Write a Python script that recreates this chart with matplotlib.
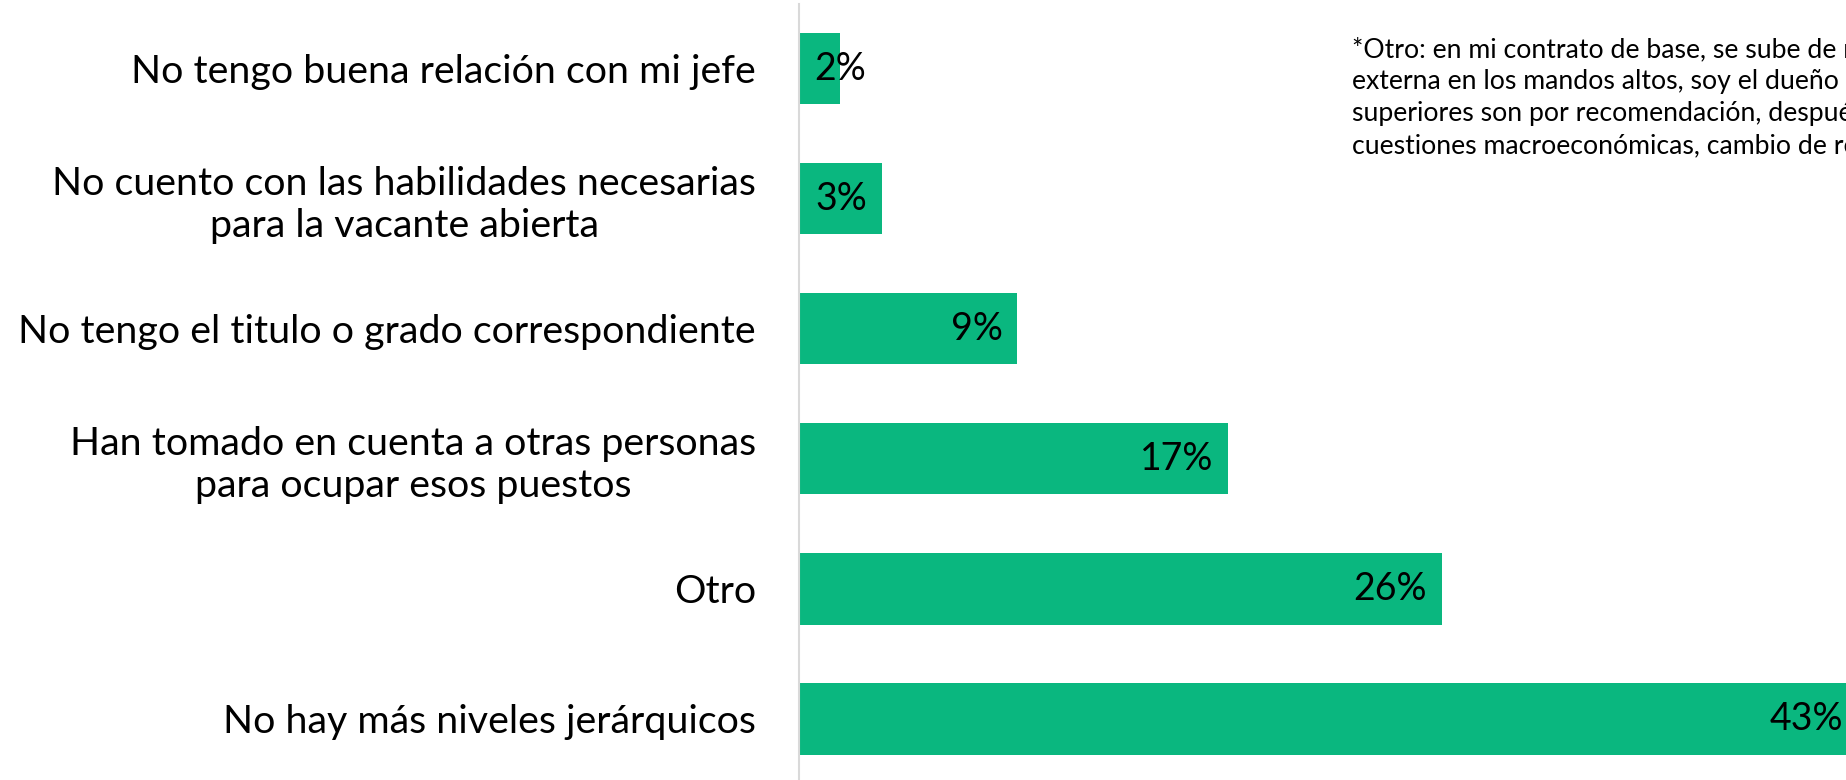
import matplotlib.pyplot as plt

# data (top to bottom)
categories = [
    "No tengo buena relación con mi jefe",
    "No cuento con las habilidades necesarias\npara la vacante abierta",
    "No tengo el titulo o grado correspondiente",
    "Han tomado en cuenta a otras personas\npara ocupar esos puestos",
    "Otro",
    "No hay más niveles jerárquicos",
]
values = [1.65, 3.35, 8.8, 17.3, 25.9, 43.0]
value_labels = ["2%", "3%", "9%", "17%", "26%", "43%"]

note_lines = [
    "*Otro: en mi contrato de base, se sube de m",
    "externa en los mandos altos, soy el dueño d",
    "superiores son por recomendación, después",
    "cuestiones macroeconómicas, cambio de re",
]

plt.rcParams['font.family'] = ['Lato', 'DejaVu Sans']

bar_color = '#0AB77F'
x_max = 42.2

fig = plt.figure(figsize=(18.46, 7.8), dpi=100)
ax = fig.add_axes([799 / 1846, 0, 1 - 799 / 1846, 1 - 4 / 780])

pos = list(range(len(categories)))
ax.barh(pos, values, height=0.55, color=bar_color)

ax.set_ylim(5.47, -0.496)
ax.set_xlim(0, x_max)

ax.set_yticks(pos)
ax.set_yticklabels(categories, fontsize=28.4, ha='right', multialignment='center')
ax.tick_params(axis='y', length=0, pad=31)
ax.set_xticks([])

for side in ['top', 'right', 'bottom']:
    ax.spines[side].set_visible(False)
ax.spines['left'].set_color('#d9d9d9')
ax.spines['left'].set_linewidth(1.5)

# value labels inside the bar end
for i, (v, lab) in enumerate(zip(values, value_labels)):
    if v < 2.5:
        ax.text(0.6, i, lab, ha='left', va='center', fontsize=27, clip_on=False)
    else:
        ax.text(min(v - 0.6, x_max - 0.1), i, lab, ha='right', va='center',
                fontsize=27, clip_on=False)

# footnote, one line at a time (32 px apart)
for k, line in enumerate(note_lines):
    fig.text(1352 / 1846, 1 - (57 + 32 * k) / 780, line, fontsize=19.2,
             ha='left', va='baseline')

fig.savefig('out.png', dpi=100)
